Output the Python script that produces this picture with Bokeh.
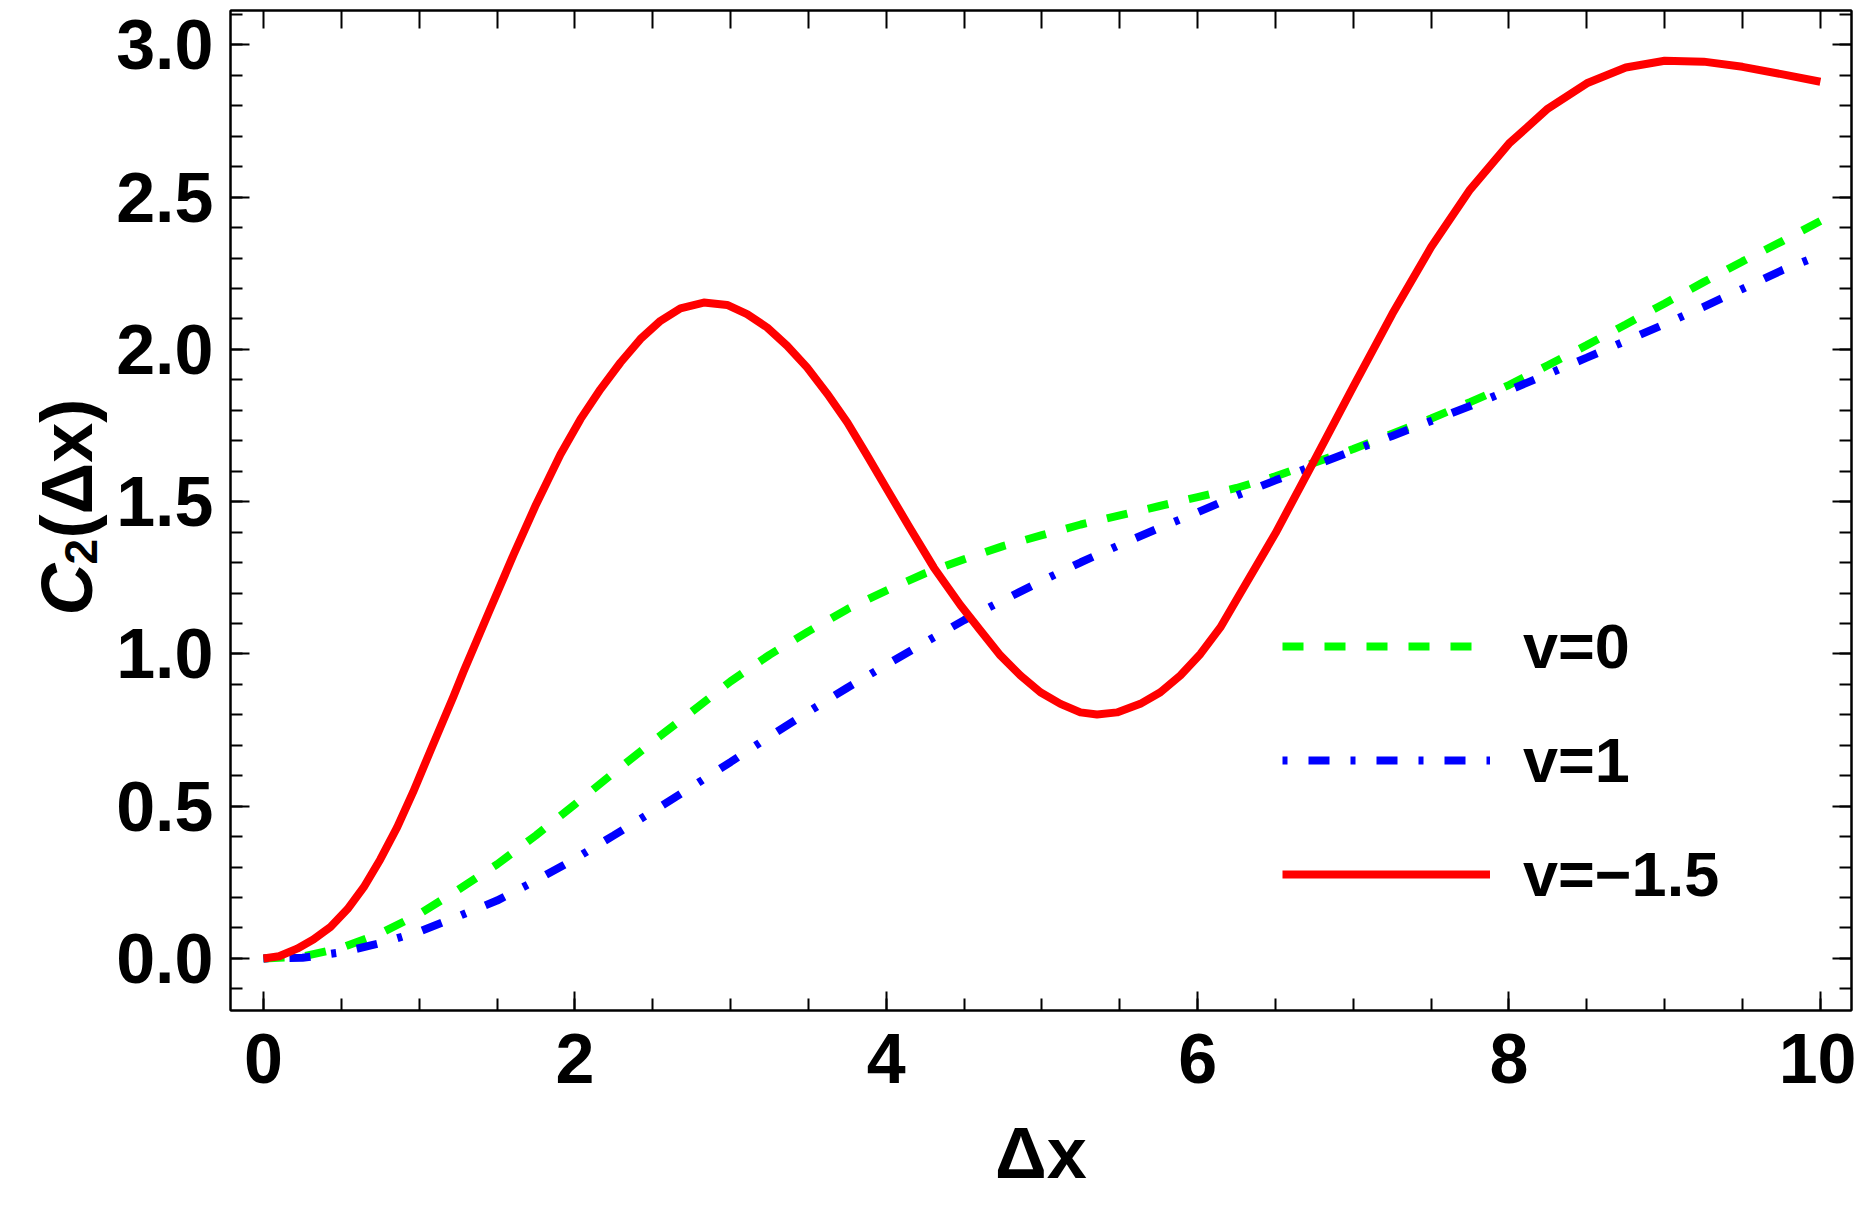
import numpy as np
from bokeh.plotting import figure
from bokeh.layouts import row
from bokeh.models import Range1d, LinearAxis, FixedTicker, Legend, LegendItem
from bokeh.embed import file_html
from bokeh.resources import INLINE
from bokeh.core.properties import value

# ---------------- data ----------------
dx_red = [0, 0.1, 0.216, 0.32, 0.43, 0.54, 0.644, 0.75, 0.859, 0.96, 1.073, 1.22,
          1.287, 1.45, 1.608, 1.75, 1.907, 2.036, 2.164, 2.293, 2.421, 2.55,
          2.678, 2.828, 2.978, 3.106, 3.235, 3.363, 3.491, 3.62, 3.75, 3.877,
          4.0, 4.15, 4.305, 4.477, 4.605, 4.733, 4.862, 4.99, 5.119, 5.247,
          5.354, 5.482, 5.632, 5.761, 5.889, 6.018, 6.146, 6.264, 6.5, 6.75,
          7.0, 7.25, 7.5, 7.75, 8.0, 8.25, 8.5, 8.75, 9.0, 9.25, 9.5, 9.75, 10.0]
c2_red = [0, 0.007, 0.032, 0.062, 0.103, 0.162, 0.234, 0.325, 0.431, 0.545, 0.683,
          0.86, 0.945, 1.14, 1.328, 1.49, 1.655, 1.771, 1.869, 1.957, 2.034, 2.094,
          2.135, 2.154, 2.146, 2.116, 2.072, 2.012, 1.941, 1.855, 1.76, 1.652,
          1.545, 1.415, 1.284, 1.16, 1.077, 0.995, 0.929, 0.874, 0.836, 0.808,
          0.801, 0.808, 0.836, 0.874, 0.929, 1.0, 1.087, 1.19, 1.396, 1.636,
          1.878, 2.116, 2.336, 2.525, 2.676, 2.791, 2.874, 2.926, 2.948, 2.945,
          2.928, 2.904, 2.879]

dx = [0, 0.25, 0.5, 0.75, 1.0, 1.25, 1.5, 1.75, 2.0, 2.25, 2.5, 2.75, 3.0, 3.25,
      3.5, 3.75, 4.0, 4.25, 4.5, 4.75, 5.0, 5.25, 5.5, 5.75, 6.0, 6.25, 6.5, 6.75,
      7.0, 7.25, 7.5, 7.75, 8.0, 8.25, 8.5, 8.75, 9.0, 9.25, 9.5, 9.75, 10.0]
c2_green = [0, 0.006, 0.035, 0.082, 0.146, 0.225, 0.309, 0.404, 0.506, 0.61, 0.712,
            0.81, 0.91, 0.997, 1.074, 1.147, 1.208, 1.265, 1.311, 1.354, 1.390,
            1.425, 1.455, 1.485, 1.515, 1.545, 1.583, 1.628, 1.673, 1.723, 1.773,
            1.827, 1.883, 1.948, 2.014, 2.082, 2.151, 2.221, 2.289, 2.354, 2.422]
c2_blue = [0, 0.002, 0.02, 0.05, 0.088, 0.138, 0.19, 0.256, 0.327, 0.404, 0.483,
           0.563, 0.645, 0.729, 0.81, 0.889, 0.964, 1.038, 1.111, 1.176, 1.24,
           1.301, 1.358, 1.413, 1.465, 1.52, 1.57, 1.619, 1.668, 1.716, 1.765,
           1.814, 1.866, 1.919, 1.973, 2.028, 2.083, 2.14, 2.199, 2.259, 2.31]

series_labels = ["v=0", "v=1", "v=\u22121.5"]

x_major = [0, 2, 4, 6, 8, 10]
x_major_labels = ["0", "2", "4", "6", "8", "10"]
x_minor = [i * 0.5 for i in range(21)]
y_major = [0.0, 0.5, 1.0, 1.5, 2.0, 2.5, 3.0]
y_major_labels = ["0.0", "0.5", "1.0", "1.5", "2.0", "2.5", "3.0"]
y_minor = [round(-0.1 + i * 0.1, 1) for i in range(33)]

# ---------------- geometry / styling ----------------
X0, X1 = -0.212, 10.2
Y0, Y1 = -0.171, 3.113
TOTAL_W, TOTAL_H = 1856, 1199
YT_W = 110           # strip holding the vertical title
PW, PH = TOTAL_W - YT_W, TOTAL_H
BL, BR, BT = 230 - YT_W, 5, 10
BB = PH - 1010
FONT = "Liberation Sans"
TICK_FS = "70px"

p = figure(width=PW, height=PH, x_range=Range1d(X0, X1), y_range=Range1d(Y0, Y1),
           output_backend="svg", toolbar_location=None,
           min_border_left=BL, min_border_right=BR, min_border_top=BT,
           min_border_bottom=BB)
p.frame_align = False
p.xgrid.visible = False
p.ygrid.visible = False
p.outline_line_color = "black"
p.outline_line_width = 2
p.background_fill_color = "white"
p.border_fill_color = "white"

def style_axis(ax, major, minor, labels, major_len, minor_len, show):
    ax.ticker = FixedTicker(ticks=major, minor_ticks=minor)
    ax.axis_line_color = "black"
    ax.axis_line_width = 2
    ax.major_tick_line_color = "black"
    ax.major_tick_line_width = 2
    ax.minor_tick_line_color = "black"
    ax.minor_tick_line_width = 2
    ax.major_tick_in = major_len
    ax.major_tick_out = 0
    ax.minor_tick_in = minor_len
    ax.minor_tick_out = 0
    ax.major_label_overrides = {t: l for t, l in zip(major, labels)}
    if show:
        ax.major_label_text_font = FONT
        ax.major_label_text_font_style = "bold"
        ax.major_label_text_font_size = TICK_FS
        ax.major_label_text_color = "black"
    else:
        ax.major_label_text_font_size = "0px"
        ax.major_label_standoff = 0

xb = p.xaxis[0]
style_axis(xb, x_major, x_minor, x_major_labels, 19, 12, True)
xb.major_label_standoff = 23
xb.axis_label = "\u0394x"
xb.axis_label_text_font = FONT
xb.axis_label_text_font_style = "bold"
xb.axis_label_text_font_size = "72px"
xb.axis_label_text_color = "black"
xb.axis_label_standoff = 27

yl = p.yaxis[0]
style_axis(yl, y_major, y_minor, y_major_labels, 19, 12, True)
yl.major_label_standoff = 17

xt = LinearAxis()
style_axis(xt, x_minor, [], [""] * len(x_minor), 18, 0, False)
p.add_layout(xt, "above")
yr = LinearAxis()
style_axis(yr, y_major, y_minor, [""] * len(y_major), 19, 12, False)
p.add_layout(yr, "right")

# ---------------- curves ----------------
lw = 8
r_green = p.line(dx, c2_green, line_color="#00ff00", line_width=lw,
                 line_dash="21 21", line_cap="butt")
r_blue = p.line(dx, c2_blue, line_color="#0000ff", line_width=lw,
                line_dash="5 21 21 21", line_cap="butt")
r_red = p.line(dx_red, c2_red, line_color="#ff0000", line_width=lw,
               line_join="round")

legend = Legend(items=[LegendItem(label=series_labels[0], renderers=[r_green]),
                       LegendItem(label=series_labels[1], renderers=[r_blue]),
                       LegendItem(label=series_labels[2], renderers=[r_red])],
                location=(1052, 96))
legend.border_line_color = None
legend.background_fill_alpha = 0
legend.padding = 0
legend.margin = 0
legend.spacing = 34
legend.glyph_width = 208
legend.glyph_height = 80
legend.label_height = 80
legend.label_standoff = 33
legend.label_text_font = FONT
legend.label_text_font_style = "bold"
legend.label_text_font_size = "63px"
legend.label_text_color = "black"
p.add_layout(legend)

# ---------------- vertical title strip ----------------
fy = figure(width=YT_W, height=PH, x_range=Range1d(0, YT_W), y_range=Range1d(PH, 0),
            output_backend="svg", toolbar_location=None,
            x_axis_type=None, y_axis_type=None,
            min_border_left=0, min_border_right=0, min_border_top=0,
            min_border_bottom=0)
fy.frame_align = False
fy.outline_line_color = None
fy.xgrid.visible = False
fy.ygrid.visible = False
fy.background_fill_color = "white"
fy.border_fill_color = "white"

rot = dict(angle=np.pi / 2, text_align="left", text_baseline="alphabetic",
           text_font=value(FONT), text_color="black")
fy.text(x=[66], y=[615], text=["C"], text_font_size=value("72px"),
        text_font_style="bold italic", **rot)
fy.text(x=[80], y=[564], text=["2"], text_font_size=value("46px"),
        text_font_style="bold", **rot)
fy.text(x=[66], y=[538], text=["(\u0394x)"], text_font_size=value("72px"),
        text_font_style="bold", **rot)

layout = row(fy, p, spacing=0)
open("out.html", "w").write(file_html(layout, INLINE))
